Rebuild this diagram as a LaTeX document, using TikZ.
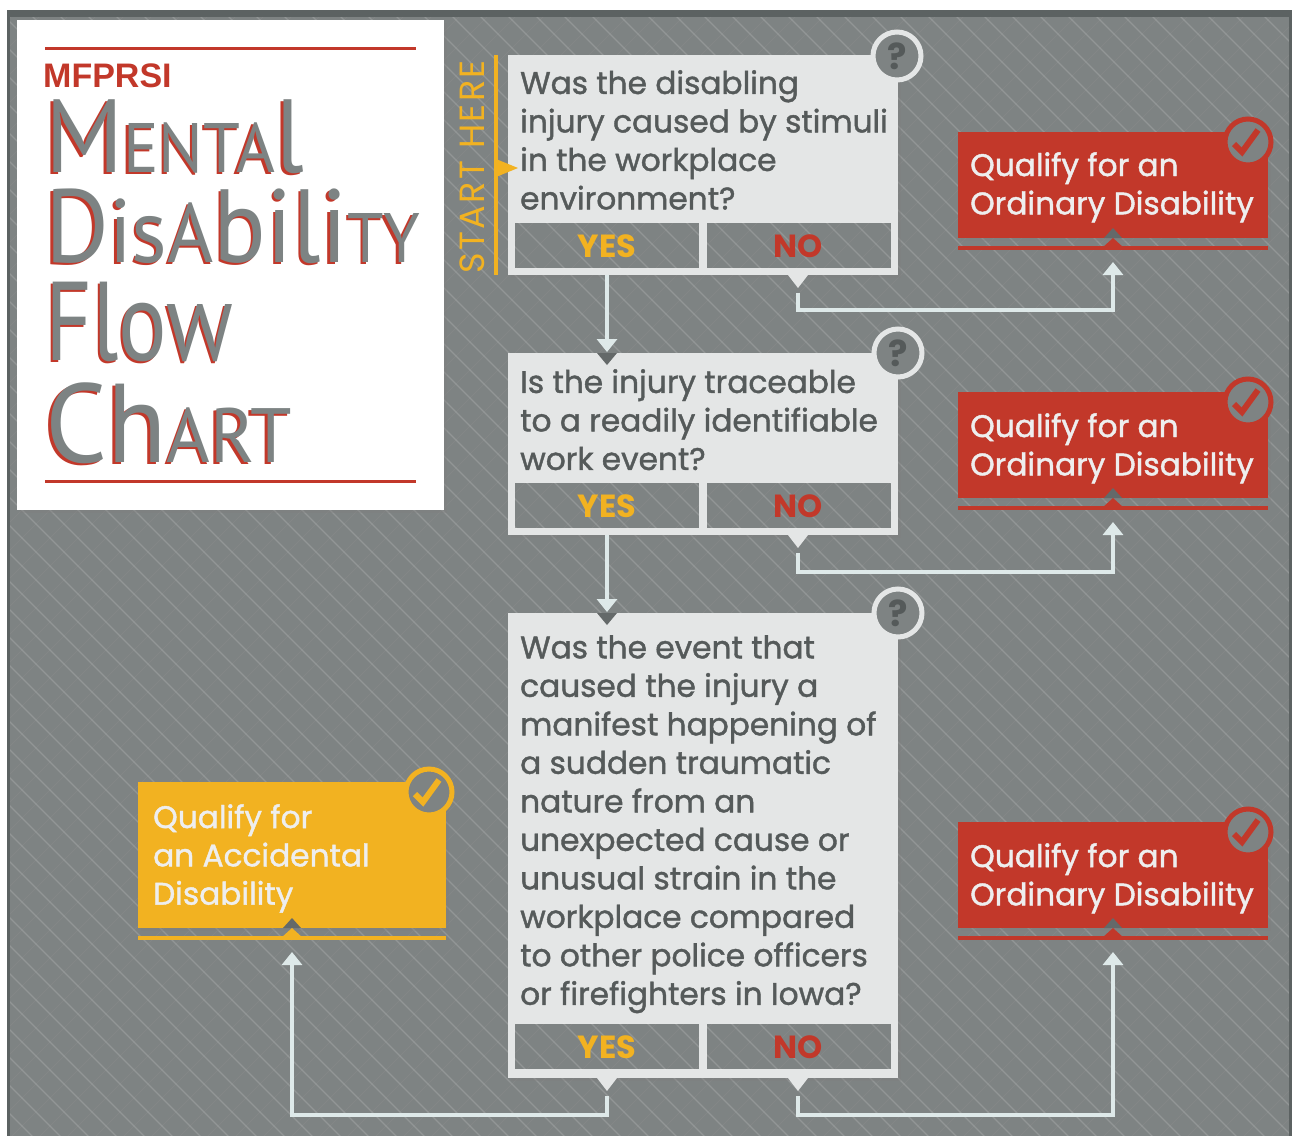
\documentclass[tikz,border=0pt]{standalone}
\usepackage{fontspec}
\usepackage{graphicx}
\setmainfont{Poppins}
\newfontfamily\qfont{Poppins}[FakeBold=1.3]
\newfontfamily\titlefont{PT Sans}
\newfontfamily\mfont{Liberation Sans}
\usetikzlibrary{arrows.meta,shadows}
\definecolor{bggray}{RGB}{126,131,131}
\definecolor{bgdark}{RGB}{92,98,98}
\definecolor{boxlight}{RGB}{228,230,230}
\definecolor{qtext}{RGB}{85,90,90}
\definecolor{myred}{RGB}{194,56,42}
\definecolor{myyellow}{RGB}{242,178,33}
\definecolor{connc}{RGB}{222,233,233}
\definecolor{wtext}{RGB}{238,238,238}
\definecolor{titlegray}{RGB}{125,131,131}
\definecolor{notchc}{RGB}{100,105,105}
\newcommand{\myhatch}{%
  \foreach \i in {-1300,-1272,...,1300} {\draw[white,opacity=0.16,line width=1.2pt] (\i,0) -- ++(1300,1300);}
  \foreach \i in {0,28,...,2600} {\draw[white,opacity=0.04,line width=1pt] (\i,0) -- ++(-1300,1300);}%
}
\newcommand{\tfA}{\fontsize{104}{104}\selectfont}
\newcommand{\tfB}{\fontsize{70}{70}\selectfont}
\newcommand{\tfC}{\fontsize{90}{90}\selectfont}
\newcommand{\tfD}{\fontsize{84}{84}\selectfont}
\newcommand{\tfE}{\fontsize{112}{112}\selectfont}
\newcommand{\tfF}{\fontsize{77}{77}\selectfont}
\newcommand{\ttl}[5]{%
  \node[ttlnode] (#1) at (#2,#3) {\scalebox{#4}[1]{\makebox[0pt][l]{\hspace*{-2.5pt}\raisebox{-2.5pt}{\color{myred}#5}}#5}};}
\begin{document}
\begin{tikzpicture}[x=1pt,y=-1pt,
  qbox/.style={fill=boxlight, inner sep=0pt, anchor=north west, drop shadow={shadow xshift=3pt,shadow yshift=-3pt,opacity=0.35}},
  rbox/.style={fill=myred, inner sep=0pt, anchor=north west, minimum width=310pt, minimum height=106pt, drop shadow={shadow xshift=3pt,shadow yshift=-3pt,opacity=0.35}},
  ybox/.style={fill=myyellow, inner sep=0pt, anchor=north west, minimum width=308pt, minimum height=146pt, drop shadow={shadow xshift=3pt,shadow yshift=-3pt,opacity=0.35}},
  ansbox/.style={fill=bggray, draw=boxlight, line width=1pt, inner sep=0pt, anchor=north west, minimum height=46pt, minimum width=185pt},
  qtxt/.style={anchor=north west, inner sep=0pt, align=left, text=qtext, font=\qfont\fontsize{31.2}{38.5}\selectfont},
  wtxt/.style={anchor=north west, inner sep=0pt, align=left, text=wtext, font=\qfont\fontsize{31.2}{38.3}\selectfont},
  yestxt/.style={text=myyellow, inner sep=0pt, font=\bfseries\fontsize{32}{32}\selectfont},
  notxt/.style={text=myred, inner sep=0pt, font=\bfseries\fontsize{32}{32}\selectfont},
  conn/.style={draw=connc, line width=4pt},
  arr/.style={conn, -{Triangle[width=20pt,length=13pt]}},
  qcirc/.style={circle, draw=boxlight, line width=5pt, fill=bggray, minimum size=48pt, inner sep=0pt, text=qtext, font=\bfseries\fontsize{36}{36}\selectfont},
  ccirc/.style={circle, line width=5pt, fill=bggray, minimum size=46pt, inner sep=0pt},
  ttlnode/.style={anchor=base west, inner sep=0pt, text=titlegray, font=\titlefont}
]
\useasboundingbox (0,0) rectangle (1294,1136);
% background
\fill[white] (0,0) rectangle (1294,1136);
\fill[bggray] (7,10) rectangle (1292,1136);
\begin{scope}
  \clip (7,10) rectangle (1292,1136);
  \myhatch
\end{scope}
\fill[bgdark] (7,10) rectangle (1292,17);
\fill[bgdark] (7,10) rectangle (10,1136);
\fill[bgdark] (1289,10) rectangle (1292,1136);

% title box
\node[fill=white, inner sep=0pt, anchor=north west, minimum width=427pt, minimum height=490pt,
      drop shadow={shadow xshift=3pt,shadow yshift=-3pt,opacity=0.35}] (titlebox) at (17,20) {};
\draw[myred, line width=3pt] (45,48) -- (416,48);
\draw[myred, line width=3pt] (45,481) -- (416,481);
\node[anchor=base west, inner sep=0pt, text=myred, font=\mfont\bfseries\fontsize{34}{34}\selectfont] (mfprsi) at (43,87) {MFPRSI};
\ttl{tmental}{45}{172}{0.95}{\tfA M\tfB ENTA\tfA l}
\ttl{tdis}{45}{262}{0.94}{\tfA D\tfC is\tfD A\tfA bili\tfB TY}
\ttl{tflow}{45}{360}{0.81}{\tfE Flow}
\ttl{tchart}{45}{462}{0.97}{\tfE Ch\tfF ART}

% start here
\node[rotate=90, text=myyellow, inner sep=0pt, font=\fontsize{35}{35}\selectfont\addfontfeature{LetterSpace=7}] (start) at (472,167) {START HERE};
\draw[myyellow, line width=4pt] (496,55) -- (496,275);

% ---------- Question 1
\node[qbox, minimum width=390pt, minimum height=220pt] (q1) at (508,55) {};
\fill[myyellow] (496,159) -- (518,168) -- (496,177) -- cycle;
\node[qtxt] (q1t) at (520,70) {Was the disabling\\injury caused by stimuli\\in the workplace\\environment?};
\node[ansbox] (q1y) at (514,222) {};
\node[ansbox] (q1n) at (706,222) {};
\begin{scope}\clip (514,222) rectangle (699,268); \myhatch \end{scope}
\begin{scope}\clip (706,222) rectangle (891,268); \myhatch \end{scope}
\node[yestxt] (q1yt) at (607,246) {YES};
\node[notxt] (q1nt) at (798,246) {NO};
\fill[boxlight] (788,275) -- (808,275) -- (798,288) -- cycle;
\node[qcirc] (q1c) at (897,56) {?};

% ---------- Question 2
\node[qbox, minimum width=390pt, minimum height=182pt] (q2) at (508,353) {};
\fill[notchc] (597,353) -- (617,353) -- (607,365) -- cycle;
\node[qtxt] (q2t) at (520,369) {Is the injury traceable\\to a readily identifiable\\work event?};
\node[ansbox] (q2y) at (514,482) {};
\node[ansbox] (q2n) at (706,482) {};
\begin{scope}\clip (514,482) rectangle (699,528); \myhatch \end{scope}
\begin{scope}\clip (706,482) rectangle (891,528); \myhatch \end{scope}
\node[yestxt] (q2yt) at (607,506) {YES};
\node[notxt] (q2nt) at (798,506) {NO};
\fill[boxlight] (788,535) -- (808,535) -- (798,548) -- cycle;
\node[qcirc] (q2c) at (898,353) {?};

% ---------- Question 3
\node[qbox, minimum width=390pt, minimum height=465pt] (q3) at (508,613) {};
\fill[notchc] (597,613) -- (617,613) -- (607,625) -- cycle;
\node[qtxt] (q3t) at (520,635) {Was the event that\\caused the injury a\\manifest happening of\\a sudden traumatic\\nature from an\\unexpected cause or\\unusual strain in the\\workplace compared\\to other police officers\\or firefighters in Iowa?};
\node[ansbox] (q3y) at (514,1023) {};
\node[ansbox] (q3n) at (706,1023) {};
\begin{scope}\clip (514,1023) rectangle (699,1069); \myhatch \end{scope}
\begin{scope}\clip (706,1023) rectangle (891,1069); \myhatch \end{scope}
\node[yestxt] (q3yt) at (607,1047) {YES};
\node[notxt] (q3nt) at (798,1047) {NO};
\fill[boxlight] (597,1078) -- (617,1078) -- (607,1091) -- cycle;
\fill[boxlight] (788,1078) -- (808,1078) -- (798,1091) -- cycle;
\node[qcirc] (q3c) at (898,613) {?};

% ---------- Outcome boxes (red)
\foreach \n/\t in {1/132,2/392,3/822}{
  \node[rbox] (r\n) at (958,\t) {};
  \fill[notchc] (1104,\t+106) -- (1113,\t+96) -- (1122,\t+106) -- cycle;
  \fill[myred] (958,\t+114) rectangle (1268,\t+118);
  \fill[myred] (1102,\t+116) -- (1113,\t+106) -- (1124,\t+116) -- cycle;
  \node[ccirc, draw=myred] (rc\n) at (1248,\t+10) {};
  \draw[myred, line width=6pt] (1248-14,\t+12) -- (1248-6,\t+20) -- (1248+10,\t-2);
}
\node[wtxt] (r1t) at (970,152) {Qualify for an\\Ordinary Disability};
\node[wtxt] (r2t) at (970,413) {Qualify for an\\Ordinary Disability};
\node[wtxt] (r3t) at (970,843) {Qualify for an\\Ordinary Disability};

% ---------- Outcome box (yellow)
\node[ybox] (acc) at (138,782) {};
\fill[notchc] (283,928) -- (292,918) -- (301,928) -- cycle;
\fill[myyellow] (138,936) rectangle (446,940);
\fill[myyellow] (281,938) -- (292,928) -- (303,938) -- cycle;
\node[ccirc, draw=myyellow] (accc) at (429,792) {};
\draw[myyellow, line width=6pt] (429-14,794) -- (429-6,802) -- (429+10,780);
\node[wtxt] (acct) at (153,804) {Qualify for\\an Accidental\\Disability};

% ---------- connectors
\coordinate (q1ys) at (607,275);
\coordinate (q2in) at (607,352);
\coordinate (q2ys) at (607,535);
\coordinate (q3in) at (607,612);
\coordinate (q1ns) at (798,293);
\coordinate (q2ns) at (798,553);
\coordinate (q3ys) at (607,1096);
\coordinate (q3ns) at (798,1096);
\coordinate (r1in) at (1113,262);
\coordinate (r2in) at (1113,522);
\coordinate (r3in) at (1113,952);
\coordinate (accin) at (292,952);
\draw[arr] (q1ys) -- (q2in);
\draw[arr] (q2ys) -- (q3in);
\draw[arr] (q1ns) -- (798,310) -| (r1in);
\draw[arr] (q2ns) -- (798,572) -| (r2in);
\draw[arr] (q3ys) -- (607,1115) -| (accin);
\draw[arr] (q3ns) -- (798,1115) -| (r3in);
\end{tikzpicture}
\end{document}
